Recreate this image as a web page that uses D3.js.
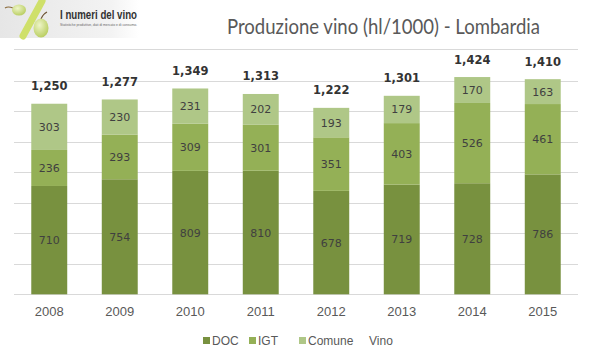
<!DOCTYPE html>
<html><head><meta charset="utf-8">
<script src="https://cdn.jsdelivr.net/npm/d3@7"></script>
<style>html,body{margin:0;padding:0;background:#fff;}svg{display:block;}</style>
</head><body>
<svg id="c" width="593" height="360"></svg>
<script>
const years = ["2008","2009","2010","2011","2012","2013","2014","2015"];
const doc = [710, 754, 809, 810, 678, 719, 728, 786];
const igt = [236, 293, 309, 301, 351, 403, 526, 461];
const comune = [303, 230, 231, 202, 193, 179, 170, 163];
const totals = [1250, 1277, 1349, 1313, 1222, 1301, 1424, 1410];
const yTicks = [0, 200, 400, 600, 800, 1000, 1200, 1400];
const seriesNames = ["DOC", "IGT", "Comune"];
const colors = ["#78913f", "#94b056", "#afc787"];

const svg = d3.select("#c");
const x = d3.scaleBand().domain(years).range([14, 578]).paddingInner(0.49).paddingOuter(0.245);
const y = d3.scaleLinear().domain([0, 1400]).range([294.3, 80.7]);

// logo
const defs = svg.append("defs");
const g1 = defs.append("linearGradient").attr("id","lg").attr("x1","0").attr("y1","0").attr("x2","1").attr("y2","0");
g1.append("stop").attr("offset","0").attr("stop-color","#e6e6e6");
g1.append("stop").attr("offset","0.8").attr("stop-color","#f3f3f3");
g1.append("stop").attr("offset","1").attr("stop-color","#ffffff");
const g2 = defs.append("radialGradient").attr("id","gr").attr("cx","0.4").attr("cy","0.35").attr("r","0.7");
g2.append("stop").attr("offset","0").attr("stop-color","#eef5c8");
g2.append("stop").attr("offset","1").attr("stop-color","#b7cc5c");
svg.append("rect").attr("x",0).attr("y",0).attr("width",139).attr("height",38).attr("fill","url(#lg)");
svg.append("line").attr("x1",42).attr("y1",1).attr("x2",23).attr("y2",36).attr("stroke","#cfe06a").attr("stroke-width",7).attr("stroke-linecap","round");
svg.append("path").attr("d","M13,8 Q8,6 5,8").attr("stroke","#8a6a3a").attr("stroke-width",1.2).attr("fill","none");
svg.append("ellipse").attr("cx",19).attr("cy",10).attr("rx",7).attr("ry",5.5).attr("fill","url(#gr)");
svg.append("path").attr("d","M41,19 Q43,14 47,12").attr("stroke","#6a5030").attr("stroke-width",1.2).attr("fill","none");
svg.append("ellipse").attr("cx",41).attr("cy",28).attr("rx",7.5).attr("ry",9.5).attr("fill","url(#gr)");
svg.append("text").attr("x",60).attr("y",19).attr("font-family","Liberation Sans, Arial, sans-serif").attr("font-weight","bold")
  .attr("font-size",12.5).attr("fill","#333").attr("textLength",77).attr("lengthAdjust","spacingAndGlyphs").text("I numeri del vino");
svg.append("text").attr("x",60).attr("y",26).attr("font-family","Liberation Sans, Arial, sans-serif")
  .attr("font-size",3.2).attr("fill","#666").attr("textLength",77).attr("lengthAdjust","spacingAndGlyphs").text("Statistiche produttive, dati di mercato e di consumo.");

// title
svg.append("text").attr("x",227).attr("y",33.5).attr("font-family","Lato, 'Open Sans', sans-serif")
  .attr("font-size",20.5).attr("fill","#595959").attr("textLength",313).attr("lengthAdjust","spacingAndGlyphs")
  .text("Produzione vino (hl/1000) - Lombardia");
svg.append("line").attr("x1",14).attr("x2",578).attr("y1",49.5).attr("y2",49.5).attr("stroke","#d9d9d9").attr("stroke-width",1);

// gridlines
svg.append("g").selectAll("line").data(yTicks).join("line")
  .attr("x1",14).attr("x2",578)
  .attr("y1",d=>Math.round(y(d))+0.5).attr("y2",d=>Math.round(y(d))+0.5)
  .attr("stroke","#d9d9d9").attr("stroke-width",1);

// stacked data
const rows = years.map((yr,i)=>({year:yr, DOC:doc[i], IGT:igt[i], Comune:comune[i], total:totals[i]}));
const stack = d3.stack().keys(seriesNames)(rows);

const gs = svg.append("g").selectAll("g").data(stack).join("g").attr("fill",(d,i)=>colors[i]);
gs.selectAll("rect").data(d=>d).join("rect")
  .attr("x",d=>x(d.data.year)).attr("width",x.bandwidth())
  .attr("y",d=>y(d[1])).attr("height",d=>y(d[0])-y(d[1]));

const lg = svg.append("g").selectAll("g").data(stack).join("g");
lg.selectAll("text").data(d=>d.map(v=>({v, key:d.key}))).join("text")
  .attr("x",d=>x(d.v.data.year)+x.bandwidth()/2)
  .attr("y",d=>(y(d.v[0])+y(d.v[1]))/2+4)
  .attr("text-anchor","middle").attr("font-family","DejaVu Sans, Verdana, sans-serif").attr("font-size",11)
  .attr("fill","#404040").text(d=>d.v.data[d.key]);

// totals
svg.append("g").selectAll("text").data(rows).join("text")
  .attr("x",d=>x(d.year)+x.bandwidth()/2).attr("y",d=>y(d.total)-13.5)
  .attr("text-anchor","middle").attr("font-family","DejaVu Sans, Verdana, sans-serif").attr("font-weight","bold")
  .attr("font-size",11.5).attr("fill","#333").text(d=>d3.format(",")(d.total));

// x axis labels
const xa = svg.append("g").attr("transform","translate(0,294.3)").call(d3.axisBottom(x).tickSize(0).tickPadding(0));
xa.select(".domain").remove();
xa.selectAll("text").attr("dy",null).attr("y",22).attr("font-family","Liberation Sans, Arial, sans-serif").attr("font-size",13).attr("fill","#595959");

// legend
const legendItems = [{name:"DOC", c:colors[0], x:203},{name:"IGT", c:colors[1], x:249},{name:"Comune", c:colors[2], x:299},{name:"Vino", c:null, x:358}];
const leg = svg.append("g");
legendItems.forEach(it=>{
  if(it.c) leg.append("rect").attr("x",it.x).attr("y",337).attr("width",7).attr("height",7).attr("fill",it.c);
  leg.append("text").attr("x",it.x+ (it.c?9:11)).attr("y",344.5).attr("font-family","Liberation Sans, Arial, sans-serif")
    .attr("font-size",12).attr("fill","#595959").text(it.name);
});
</script>
</body></html>
